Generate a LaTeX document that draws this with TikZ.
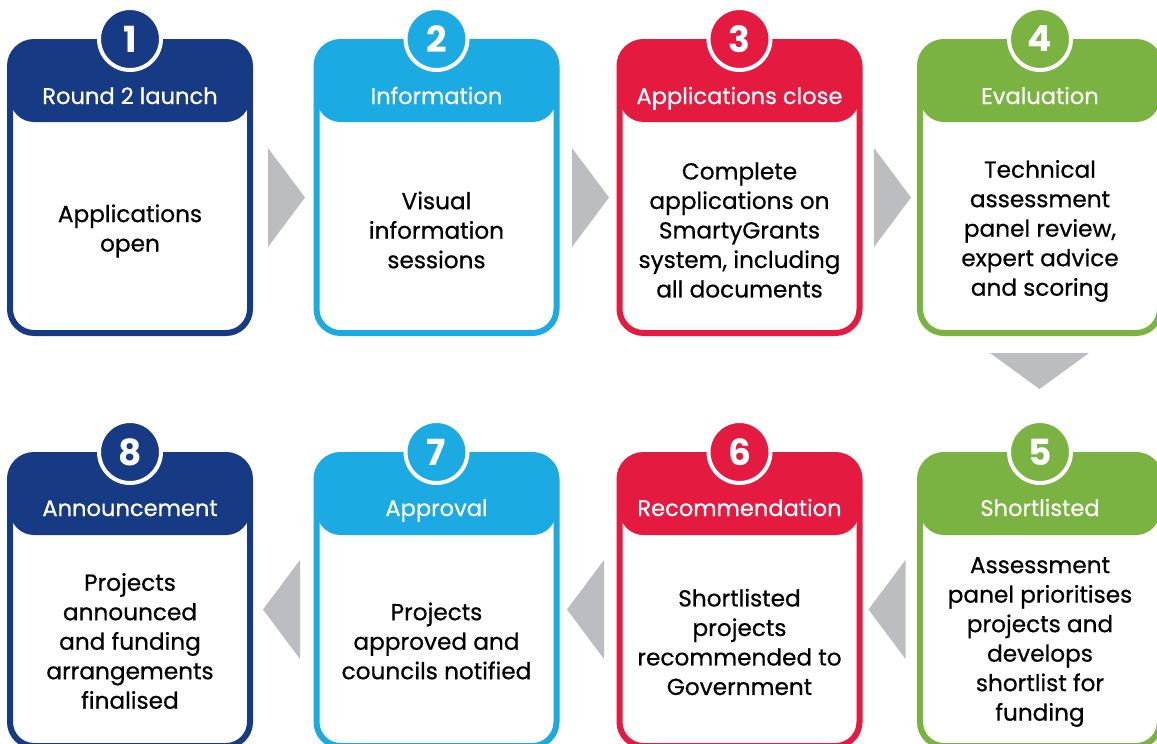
\documentclass[tikz,border=0pt]{standalone}
\usepackage{fontspec}
\setmainfont{Poppins}
\newfontfamily\medfont{Poppins}[FakeBold=0.6]
\usepackage{tikz}

\definecolor{navy}{RGB}{22,58,132}
\definecolor{sky}{RGB}{28,170,226}
\definecolor{crimson}{RGB}{228,26,64}
\definecolor{leaf}{RGB}{122,179,66}
\definecolor{chevgray}{RGB}{188,189,193}

\tikzset{
	card/.style={draw=#1, fill=white, line width=3pt, rounded corners=12pt,
		minimum width=120pt, minimum height=145.5pt, inner sep=0pt,
		path picture={\fill[#1] (path picture bounding box.north west) rectangle ([yshift=-40pt]path picture bounding box.north east);}},
	num/.style={circle, fill=#1, draw=white, line width=2pt, minimum size=31pt, inner sep=0pt,
		text=white, font=\fontsize{18}{18}\selectfont\bfseries},
	title/.style={text=white, inner sep=0pt, anchor=base, font=\fontsize{11.3}{13}\selectfont\medfont},
	body/.style={align=center, inner sep=0pt, font=\fontsize{11.6}{14.75}\selectfont\medfont},
	chevron/.style={fill=chevgray}
}

\begin{document}
\begin{tikzpicture}[x=0.5pt, y=-0.5pt]
	\useasboundingbox (0,0) rectangle (1157,744);
	\clip (0,0) rectangle (1157,744);
	% top row
	\node[card=navy] (c1) at (130,187.5) {};
	\node[card=sky] (c2) at (436.5,187.5) {};
	\node[card=crimson] (c3) at (739.5,187.5) {};
	\node[card=leaf] (c4) at (1040,187.5) {};
	% bottom row
	\node[card=leaf] (c5) at (1040,600.5) {};
	\node[card=crimson] (c6) at (739.5,600.5) {};
	\node[card=sky] (c7) at (436.5,600.5) {};
	\node[card=navy] (c8) at (130,600.5) {};
	%
	\node[num=navy] (n1) at (c1.north) {1};
	\node[num=sky] (n2) at (c2.north) {2};
	\node[num=crimson] (n3) at (c3.north) {3};
	\node[num=leaf] (n4) at (c4.north) {4};
	\node[num=leaf] (n5) at (c5.north) {5};
	\node[num=crimson] (n6) at (c6.north) {6};
	\node[num=sky] (n7) at (c7.north) {7};
	\node[num=navy] (n8) at (c8.north) {8};
	%
	\node[title] (t1) at (130,104) {Round 2 launch};
	\node[title] (t2) at (436.5,104) {Information};
	\node[title] (t3) at (739.5,104) {Applications close};
	\node[title] (t4) at (1040,104) {Evaluation};
	\node[title] (t5) at (1040,516) {Shortlisted};
	\node[title] (t6) at (739.5,516) {Recommendation};
	\node[title] (t7) at (436.5,516) {Approval};
	\node[title] (t8) at (130,516) {Announcement};
	%
	\node[body] (b1) at (130,231) {Applications\\open};
	\node[body] (b2) at (436.5,230) {Visual\\information\\sessions};
	\node[body] (b3) at (739.5,230) {Complete\\applications on\\SmartyGrants\\system, including\\all documents};
	\node[body] (b4) at (1040,231) {Technical\\assessment\\panel review,\\expert advice\\and scoring};
	\node[body] (b5) at (1040,642) {Assessment\\panel prioritises\\projects and\\develops\\shortlist for\\funding};
	\node[body] (b6) at (739.5,642) {Shortlisted\\projects\\recommended to\\Government};
	\node[body] (b7) at (436.5,641) {Projects\\approved and\\councils notified};
	\node[body] (b8) at (130,641) {Projects\\announced\\and funding\\arrangements\\finalised};
	% chevrons between the steps
	\coordinate (g12) at (286.5,197.5);
	\coordinate (g23) at (590.5,197.5);
	\coordinate (g34) at (892.5,197.5);
	\coordinate (g45) at (1039.5,371);
	\coordinate (g56) at (887,609.5);
	\coordinate (g67) at (585.5,609.5);
	\coordinate (g78) at (281.5,609.5);
	\fill[chevron] (g12) ++(-18.5,-49.5) -- ++(37,49.5) -- ++(-37,49.5) -- cycle;
	\fill[chevron] (g23) ++(-18.5,-49.5) -- ++(37,49.5) -- ++(-37,49.5) -- cycle;
	\fill[chevron] (g34) ++(-18.5,-49.5) -- ++(37,49.5) -- ++(-37,49.5) -- cycle;
	\fill[chevron] (g45) ++(-49.5,-18) -- ++(49.5,36) -- ++(49.5,-36) -- cycle;
	\fill[chevron] (g56) ++(18.5,-49.5) -- ++(-37,49.5) -- ++(37,49.5) -- cycle;
	\fill[chevron] (g67) ++(18.5,-49.5) -- ++(-37,49.5) -- ++(37,49.5) -- cycle;
	\fill[chevron] (g78) ++(18.5,-49.5) -- ++(-37,49.5) -- ++(37,49.5) -- cycle;
\end{tikzpicture}
\end{document}
